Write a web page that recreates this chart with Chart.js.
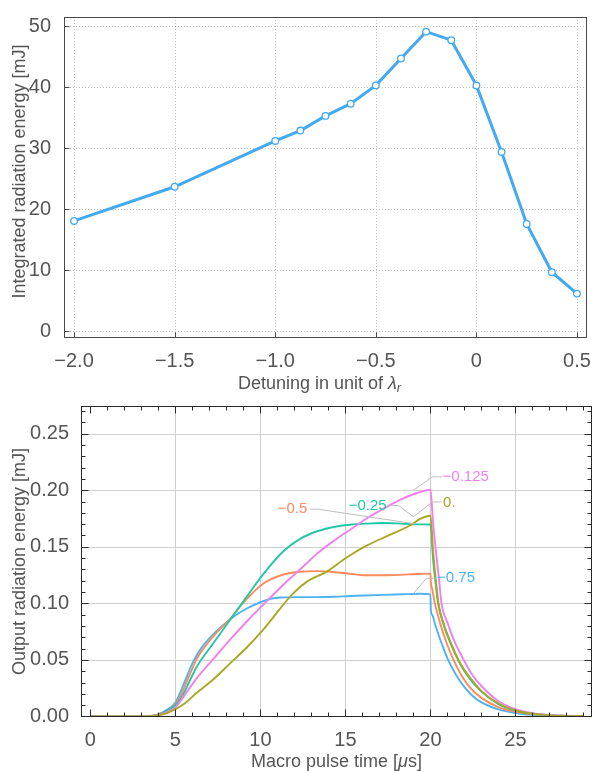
<!DOCTYPE html>
<html><head><meta charset="utf-8">
<script src="https://cdn.jsdelivr.net/npm/chart.js@4.4.1/dist/chart.umd.min.js"></script>
<style>
html,body{margin:0;padding:0;background:#fff;}
#wrap{position:relative;width:594px;height:771px;overflow:hidden;}
canvas{position:absolute;left:0;}
#c1{top:0;width:594px;height:400px;}
#c2{top:390px;width:594px;height:381px;}
</style></head><body>
<div id="wrap"><canvas id="c1" width="594" height="400"></canvas><canvas id="c2" width="594" height="381"></canvas></div>
<script>
// ---------- Top chart data ----------
const detuning = [-2.0, -1.5, -1.0, -0.875, -0.75, -0.625, -0.5, -0.375, -0.25, -0.125, 0, 0.125, 0.25, 0.375, 0.5];
const integratedEnergy = [18.1, 23.7, 31.2, 32.9, 35.3, 37.3, 40.3, 44.7, 49.1, 47.7, 40.3, 29.4, 17.6, 9.7, 6.2];
const detuningTicks = [-2.0, -1.5, -1.0, -0.5, 0, 0.5];
const detuningTickLabels = ['\u22122.0', '\u22121.5', '\u22121.0', '\u22120.5', '0', '0.5'];
const energyTicks = [0, 10, 20, 30, 40, 50];
const energyTickLabels = ['0', '10', '20', '30', '40', '50'];

// ---------- Bottom chart data ----------
const seriesNames = ['\u22120.75', '\u22120.5', '\u22120.25', '\u22120.125', '0.'];
const tA = [0, 3, 3.5, 4, 4.5, 5, 5.5, 6, 6.5, 7, 7.6, 8.4, 9.2, 10.0, 10.6, 11.2, 12.3, 13.3, 14.3, 15.3, 16.2, 17.2, 18.3, 19.4, 20, 20.02, 20.1, 20.3, 20.6, 21.04, 21.5, 22, 22.5, 23, 24, 25, 26, 27, 28, 29];
const eA = [0, 0, 0.0005, 0.002, 0.006, 0.0125, 0.029, 0.047, 0.060, 0.069, 0.078, 0.088, 0.0955, 0.101, 0.104, 0.1052, 0.1055, 0.1055, 0.1058, 0.1065, 0.107, 0.1075, 0.108, 0.1085, 0.108, 0.094, 0.090, 0.080, 0.067, 0.050, 0.037, 0.026, 0.018, 0.0125, 0.0063, 0.0031, 0.0015, 0.0008, 0.0004, 0.0002];
const tB = [0, 3, 3.5, 4, 4.5, 5, 5.29, 5.7, 6.26, 6.8, 7.24, 8.22, 9.2, 10.18, 11.35, 12.33, 13.3, 14.3, 15.27, 16.24, 17.22, 18.2, 19.18, 20, 20.03, 20.1, 20.26, 20.6, 21, 21.33, 21.8, 22.3, 23, 24, 25, 26, 27, 28, 29];
const eB = [0, 0, 0.0004, 0.002, 0.005, 0.011, 0.018, 0.032, 0.051, 0.063, 0.071, 0.0865, 0.104, 0.1175, 0.1255, 0.128, 0.1285, 0.1277, 0.1262, 0.1248, 0.1248, 0.1252, 0.126, 0.1263, 0.118, 0.113, 0.1, 0.081, 0.063, 0.051, 0.037, 0.026, 0.0165, 0.0083, 0.0041, 0.002, 0.001, 0.0005, 0.0002];
const tC = [0, 3, 3.5, 4, 4.5, 5, 5.29, 6.26, 7.24, 8.22, 9.2, 10.18, 11.35, 12.33, 13.3, 14.3, 15.27, 16.24, 17.2, 18.3, 19.4, 20, 20.15, 20.3, 20.45, 20.8, 21.2, 21.63, 22, 22.5, 23, 24, 25, 26, 27, 28, 29];
const eC = [0, 0, 0.0003, 0.0015, 0.005, 0.010, 0.015, 0.044, 0.065, 0.0855, 0.106, 0.126, 0.146, 0.157, 0.1635, 0.1675, 0.1695, 0.1705, 0.171, 0.1705, 0.1698, 0.1697, 0.14, 0.118, 0.1, 0.08, 0.064, 0.05, 0.04, 0.03, 0.022, 0.011, 0.0053, 0.0025, 0.0012, 0.0006, 0.0002];
const tD = [0, 3, 3.5, 4, 4.5, 5, 5.29, 6.26, 7.24, 8.22, 9.2, 10.18, 11.35, 12.33, 13.3, 14.29, 15.27, 16.24, 17.22, 18.2, 19.4, 20, 20.15, 20.35, 20.5, 20.65, 21, 21.45, 21.96, 22.5, 23, 24, 25, 26, 27, 28, 29];
const eD = [0, 0, 0.0003, 0.0013, 0.004, 0.008, 0.0135, 0.034, 0.051, 0.068, 0.084, 0.099, 0.1165, 0.130, 0.1435, 0.155, 0.165, 0.175, 0.1835, 0.1915, 0.1984, 0.2004, 0.172, 0.142, 0.122, 0.1, 0.083, 0.065, 0.05, 0.036, 0.027, 0.0135, 0.0065, 0.003, 0.0014, 0.0007, 0.0003];
const tE = [0, 3, 3.5, 4, 4.5, 5, 5.5, 6.26, 7.24, 8.22, 9.2, 10.18, 10.67, 11.3, 11.94, 12.72, 13.9, 15.07, 16.24, 17.6, 18.8, 19.4, 20, 20.15, 20.3, 20.47, 20.8, 21.2, 21.65, 22, 22.5, 23, 24, 25, 26, 27, 28, 29];
const eE = [0, 0, 0.0002, 0.001, 0.003, 0.0065, 0.011, 0.021, 0.033, 0.047, 0.061, 0.077, 0.086, 0.098, 0.109, 0.119, 0.128, 0.1405, 0.151, 0.1605, 0.1688, 0.1746, 0.1774, 0.147, 0.123, 0.1, 0.081, 0.065, 0.05, 0.041, 0.031, 0.0225, 0.0115, 0.0055, 0.0026, 0.0012, 0.0006, 0.0002];
const timeTicks = [0, 5, 10, 15, 20, 25];
const timeTickLabels = ['0', '5', '10', '15', '20', '25'];
const outTicks = [0, 0.05, 0.10, 0.15, 0.20, 0.25];
const outTickLabels = ['0.00', '0.05', '0.10', '0.15', '0.20', '0.25'];
// callout anchors in data units
const calloutText = [[20.39, 0.1224], [12.76, 0.1832], [17.42, 0.1866], [20.71, 0.2122], [20.74, 0.1892]];
const calloutPaths = [
  [[18.98, 0.1084], [19.77, 0.1222], [20.36, 0.1222]],
  [[12.92, 0.1832], [13.40, 0.1832], [19.08, 0.1703]],
  [[17.46, 0.1866], [18.10, 0.1866], [18.98, 0.1767]],
  [[18.98, 0.1998], [20.12, 0.2118], [20.65, 0.2118]],
  [[18.98, 0.1763], [20.12, 0.1896], [20.65, 0.1896]]
];
const calloutAlign = ['left', 'right', 'right', 'left', 'left'];

const FAM = '"Liberation Sans", Arial, sans-serif';
const TXT = '#555555';
const seriesColors = ['#4db3f5', '#ff8a5c', '#22c7a5', '#f080f0', '#a8a824'];

function pts(t, e) { return t.map((v, i) => ({ x: v, y: e[i] })); }

const framePlugin = {
  id: 'frame',
  beforeDatasetsDraw(chart, args, o) {
    const { ctx, chartArea: a, scales: { x, y } } = chart;
    ctx.save();
    ctx.lineWidth = 1; ctx.strokeStyle = o.gridColor; ctx.setLineDash(o.dash || []);
    o.gridX.forEach(v => { const p = Math.round(x.getPixelForValue(v)) + 0.5; ctx.beginPath(); ctx.moveTo(p, a.top); ctx.lineTo(p, a.bottom); ctx.stroke(); });
    o.gridY.forEach(v => { const p = Math.round(y.getPixelForValue(v)) + 0.5; ctx.beginPath(); ctx.moveTo(a.left, p); ctx.lineTo(a.right, p); ctx.stroke(); });
    ctx.restore();
  },
  afterDatasetsDraw(chart, args, o) {
    const { ctx, chartArea: a, scales: { x, y } } = chart;
    ctx.save();
    ctx.setLineDash([]);
    ctx.lineWidth = 1; ctx.strokeStyle = o.frameColor;
    const L = Math.round(a.left) + 0.5, R = Math.round(a.right) - 0.5, T = Math.round(a.top) + 0.5, B = Math.round(a.bottom) - 0.5;
    ctx.strokeRect(L, T, R - L, B - T);
    const tick = (vals, len, sides) => {
      vals.forEach(v => {
        const p = Math.round(x.getPixelForValue(v)) + 0.5;
        if (p < L || p > R) return;
        if (sides.includes('b')) { ctx.beginPath(); ctx.moveTo(p, B); ctx.lineTo(p, B - len); ctx.stroke(); }
        if (sides.includes('t')) { ctx.beginPath(); ctx.moveTo(p, T); ctx.lineTo(p, T + len); ctx.stroke(); }
      });
    };
    const tickY = (vals, len, sides) => {
      vals.forEach(v => {
        const p = Math.round(y.getPixelForValue(v)) + 0.5;
        if (p < T - 0.1 || p > B + 0.1) return;
        if (sides.includes('l')) { ctx.beginPath(); ctx.moveTo(L, p); ctx.lineTo(L + len, p); ctx.stroke(); }
        if (sides.includes('r')) { ctx.beginPath(); ctx.moveTo(R, p); ctx.lineTo(R - len, p); ctx.stroke(); }
      });
    };
    tick(o.majorX, o.majorLen, o.xSides);
    tick(o.minorX || [], o.minorLen, o.xSides);
    tickY(o.majorY, o.majorLen, o.ySides);
    tickY(o.minorY || [], o.minorLen, o.ySides);
    if (o.callouts) {
      ctx.strokeStyle = '#bdbdbd'; ctx.lineWidth = 1;
      o.callouts.paths.forEach(path => {
        ctx.beginPath();
        path.forEach((pnt, i) => { const px = x.getPixelForValue(pnt[0]), py = y.getPixelForValue(pnt[1]); i ? ctx.lineTo(px, py) : ctx.moveTo(px, py); });
        ctx.stroke();
      });
      ctx.font = '15px ' + FAM; ctx.textBaseline = 'middle';
      o.callouts.text.forEach((pnt, i) => {
        ctx.fillStyle = o.callouts.colors[i]; ctx.textAlign = o.callouts.align[i];
        ctx.fillText(o.callouts.labels[i], x.getPixelForValue(pnt[0]), y.getPixelForValue(pnt[1]));
      });
    }
    ctx.restore();
  },
  afterDraw(chart, args, o) {
    const { ctx, chartArea: a } = chart;
    ctx.save();
    ctx.fillStyle = TXT; ctx.textBaseline = 'middle';
    const parts = o.xTitle;
    let w = 0;
    parts.forEach(p => { ctx.font = (p.italic ? 'italic ' : '') + (p.size || o.titleSize) + 'px ' + FAM; p.w = ctx.measureText(p.t).width; w += p.w; });
    let xx = (a.left + a.right) / 2 - w / 2 + (o.xTitleShift || 0);
    ctx.textAlign = 'left';
    parts.forEach(p => { ctx.font = (p.italic ? 'italic ' : '') + (p.size || o.titleSize) + 'px ' + FAM; ctx.fillText(p.t, xx, o.xTitleY + (p.dy || 0)); xx += p.w; });
    ctx.font = o.titleSize + 'px ' + FAM;
    ctx.translate(o.yTitleX, (a.top + a.bottom) / 2 + (o.yTitleShift || 0));
    ctx.rotate(-Math.PI / 2);
    ctx.textAlign = 'center';
    ctx.fillText(o.yTitle, 0, 0);
    ctx.restore();
  }
};

Chart.defaults.font.family = FAM;
Chart.defaults.color = TXT;

// ---------- Top chart ----------
new Chart(document.getElementById('c1'), {
  type: 'line',
  data: {
    datasets: [{
      data: pts(detuning, integratedEnergy),
      borderColor: '#42a9f3', borderWidth: 3, tension: 0,
      pointRadius: 3.3, pointBackgroundColor: '#ffffff', pointBorderColor: '#42a9f3', pointBorderWidth: 1.3
    }]
  },
  options: {
    responsive: false, animation: false, devicePixelRatio: 1,
    layout: { padding: { top: 15, right: 5, left: 0, bottom: 0 } },
    plugins: {
      legend: { display: false }, tooltip: { enabled: false },
      frame: {
        gridColor: '#c4c4c4', dash: [1, 2], gridX: detuningTicks, gridY: energyTicks,
        frameColor: '#4a4a4a', majorX: detuningTicks, majorY: energyTicks, majorLen: 5, xSides: 'b', ySides: 'l',
        titleSize: 18, xTitleY: 384, xTitleShift: -6, yTitleX: 20, yTitleShift: -6, yTitle: 'Integrated radiation energy [mJ]',
        xTitle: [{ t: 'Detuning in unit of ' }, { t: '\u03bb', italic: true }, { t: 'r', italic: true, size: 13, dy: 4 }]
      }
    },
    scales: {
      x: {
        type: 'linear', min: -2.05, max: 0.55, grid: { display: false }, border: { display: false },
        afterBuildTicks: s => { s.ticks = detuningTicks.map(v => ({ value: v })); },
        afterFit: s => { s.height = 62; },
        ticks: { padding: 3, autoSkip: false, maxRotation: 0, font: { size: 20 }, color: TXT, callback: (v, i) => detuningTickLabels[i] }
      },
      y: {
        type: 'linear', min: -1.07, max: 51.5, grid: { display: false }, border: { display: false },
        afterBuildTicks: s => { s.ticks = energyTicks.map(v => ({ value: v })); },
        afterFit: s => { s.width = 64; },
        ticks: { padding: 5, font: { size: 20 }, color: TXT, callback: (v, i) => energyTickLabels[i] }
      }
    }
  },
  plugins: [framePlugin]
});

// ---------- Bottom chart ----------
const times = [tA, tB, tC, tD, tE];
const energies = [eA, eB, eC, eD, eE];
const drawOrder = [4, 3, 2, 1, 0];
const minorT = []; for (let v = 0; v <= 29; v++) minorT.push(v);
const minorE = []; for (let k = 0; k <= 27; k++) minorE.push(k / 100);

new Chart(document.getElementById('c2'), {
  type: 'line',
  data: {
    datasets: drawOrder.map(i => ({
      data: pts(times[i], energies[i]),
      borderColor: seriesColors[i], borderWidth: 1.9, pointRadius: 0,
      cubicInterpolationMode: 'monotone', tension: 0.4
    }))
  },
  options: {
    responsive: false, animation: false, devicePixelRatio: 1,
    layout: { padding: { top: 9, right: 2, left: 0, bottom: 0 } },
    plugins: {
      legend: { display: false }, tooltip: { enabled: false },
      frame: {
        gridColor: '#cfcfcf', dash: [], gridX: [5, 10, 15, 20, 25], gridY: [0.05, 0.10, 0.15, 0.20, 0.25],
        frameColor: '#2a2a2a', majorX: timeTicks, minorX: minorT, majorY: outTicks, minorY: minorE,
        majorLen: 7, minorLen: 4, xSides: 'bt', ySides: 'lr',
        titleSize: 18, xTitleY: 372, yTitleX: 20, yTitle: 'Output radiation energy [mJ]',
        xTitle: [{ t: 'Macro pulse time [' }, { t: '\u03bc', italic: true }, { t: 's]' }],
        callouts: { paths: calloutPaths, text: calloutText, labels: seriesNames, colors: seriesColors, align: calloutAlign }
      }
    },
    scales: {
      x: {
        type: 'linear', min: -0.55, max: 29.5, grid: { display: false }, border: { display: false },
        afterBuildTicks: s => { s.ticks = timeTicks.map(v => ({ value: v })); },
        afterFit: s => { s.height = 54; },
        ticks: { padding: 3, autoSkip: false, maxRotation: 0, font: { size: 20 }, color: TXT, callback: (v, i) => timeTickLabels[i] }
      },
      y: {
        type: 'linear', min: -0.0004, max: 0.2744, grid: { display: false }, border: { display: false },
        afterBuildTicks: s => { s.ticks = outTicks.map(v => ({ value: v })); },
        afterFit: s => { s.width = 81; },
        ticks: { padding: 4, font: { size: 20 }, color: TXT, callback: (v, i) => outTickLabels[i] }
      }
    }
  },
  plugins: [framePlugin]
});
</script>
</body></html>
